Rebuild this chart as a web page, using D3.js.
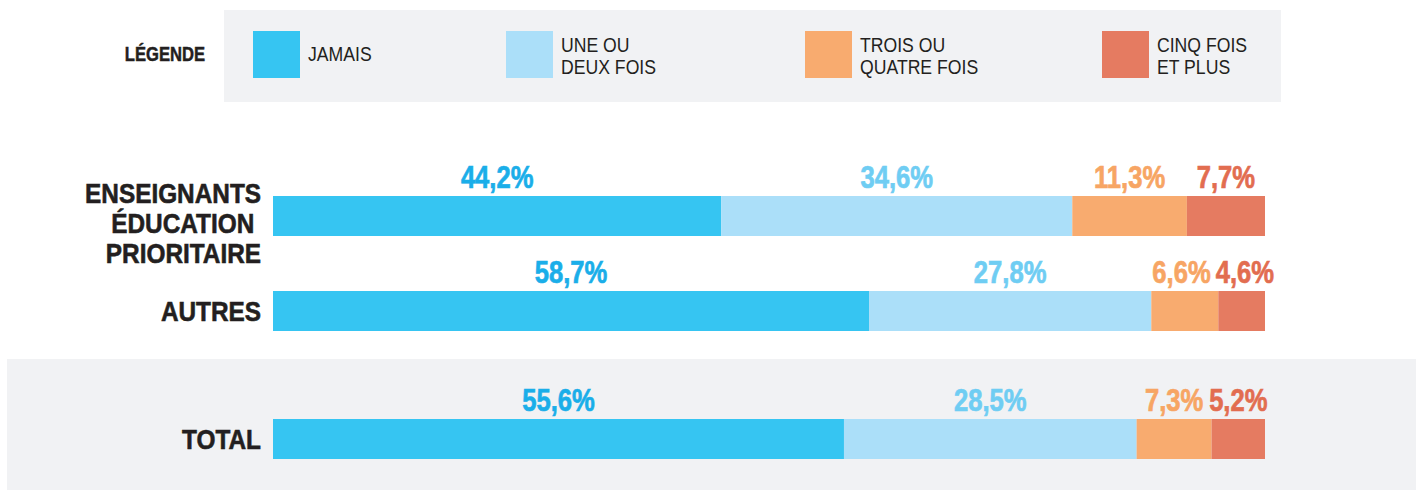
<!DOCTYPE html>
<html>
<head>
<meta charset="utf-8">
<script src="https://cdn.jsdelivr.net/npm/d3@7"></script>
<style>
  html, body { margin: 0; padding: 0; background: #ffffff; }
  svg { display: block; }
  text { font-family: "Liberation Sans", Arial, sans-serif; }
</style>
</head>
<body>
<div id="chart"></div>
<script>
// categories and values
var categories = ["JAMAIS", "UNE OU DEUX FOIS", "TROIS OU QUATRE FOIS", "CINQ FOIS ET PLUS"];
var legendLines = [["JAMAIS"], ["UNE OU", "DEUX FOIS"], ["TROIS OU", "QUATRE FOIS"], ["CINQ FOIS", "ET PLUS"]];
var groups = [["ENSEIGNANTS", "ÉDUCATION ", "PRIORITAIRE"], ["AUTRES"], ["TOTAL"]];
var prioritaire = [44.2, 34.6, 11.3, 7.7];
var autres = [58.7, 27.8, 6.6, 4.6];
var total = [55.6, 28.5, 7.3, 5.2];

var series = [prioritaire, autres, total];

var barColors = ["#36c5f2", "#abdff9", "#f8ab6f", "#e57b61"];
var labelColors = ["#1aaee9", "#6fcdf3", "#f7a564", "#e26d50"];
var textColor = "#231f20";
var panelColor = "#f1f2f4";

var width = 1421, height = 490;
var barLeft = 273, barRight = 1265, barH = 40;
var rowTop = [196, 291, 419];
var legendX = [253, 506, 805, 1102];

// no condensed face installed: squeeze the text horizontally instead
var pctSqueeze = 0.8, titleSqueeze = 0.87, legendSqueeze = 0.84;

var fr = d3.formatLocale({decimal: ",", thousands: " ", grouping: [3], currency: ["", " €"]});
var fmt = fr.format(".1f");

var svg = d3.select("#chart").append("svg")
    .attr("width", width)
    .attr("height", height);

// legend panel
svg.append("rect")
    .attr("x", 224).attr("y", 10)
    .attr("width", 1057).attr("height", 92)
    .attr("fill", panelColor);

svg.append("text")
    .attr("transform", "translate(205,61) scale(0.83,1)")
    .attr("text-anchor", "end")
    .attr("font-size", 20)
    .attr("font-weight", "bold")
    .attr("fill", textColor)
    .attr("stroke", textColor)
    .attr("stroke-width", 0.5)
    .text("LÉGENDE");

var legend = svg.selectAll(".legendItem")
    .data(categories)
    .enter()
    .append("g")
    .attr("class", "legendItem")
    .attr("transform", function(d, i) { return "translate(" + legendX[i] + ",31)"; });

legend.append("rect")
    .attr("width", 47).attr("height", 47)
    .attr("fill", function(d, i) { return barColors[i]; });

legend.each(function(d, i) {
    var lines = legendLines[i];
    var first = lines.length == 1 ? 30 : 21;
    var t = d3.select(this).append("text")
        .attr("transform", "translate(55,0) scale(" + legendSqueeze + ",1)")
        .attr("font-size", 21)
        .attr("fill", textColor);
    t.selectAll("tspan")
        .data(lines)
        .enter()
        .append("tspan")
        .attr("x", 0)
        .attr("y", function(l, j) { return first + j * 22; })
        .text(function(l) { return l; });
});

// total panel
svg.append("rect")
    .attr("x", 7).attr("y", 359)
    .attr("width", 1409).attr("height", 131)
    .attr("fill", panelColor);

// rows
series.forEach(function(values, r) {
    var x = d3.scaleLinear()
        .domain([0, d3.sum(values)])
        .range([barLeft, barRight]);

    var stacked = [];
    var acc = 0;
    values.forEach(function(v, i) {
        stacked.push({i: i, v: v, x0: acc, x1: acc + v, cx: x(acc + v / 2)});
        acc += v;
    });

    var row = svg.append("g").attr("class", "row");
    var y0 = rowTop[r];

    row.selectAll("rect")
        .data(stacked)
        .enter()
        .append("rect")
        .attr("x", function(d) { return x(d.x0); })
        .attr("y", y0)
        .attr("width", function(d) { return x(d.x1) - x(d.x0); })
        .attr("height", barH)
        .attr("fill", function(d) { return barColors[d.i]; });

    var labels = row.selectAll(".pct")
        .data(stacked)
        .enter()
        .append("text")
        .attr("class", "pct")
        .attr("text-anchor", "middle")
        .attr("font-size", 32)
        .attr("font-weight", "bold")
        .attr("fill", function(d) { return labelColors[d.i]; })
        .attr("stroke", function(d) { return labelColors[d.i]; })
        .attr("stroke-width", 0.7)
        .text(function(d) { return fmt(d.v) + "%"; });

    // push small labels apart when they collide
    labels.each(function(d) { d.w = this.getBBox().width * pctSqueeze; });
    for (var k = stacked.length - 1; k > 0; k--) {
        var a = stacked[k - 1], b = stacked[k];
        var gap = (a.cx + a.w / 2 + 5) - (b.cx - b.w / 2);
        if (gap > 0) {
            a.cx -= gap / 2;
            b.cx += gap / 2;
        }
    }
    labels.attr("transform", function(d) {
        return "translate(" + d.cx + "," + (y0 - 8) + ") scale(" + pctSqueeze + ",1)";
    });

    // row title
    var lines = groups[r];
    var mid = y0 + barH / 2;
    var firstBase = lines.length == 1 ? mid + 10 : mid + 17 - (lines.length - 1) / 2 * 30;
    row.append("text")
        .attr("transform", "translate(261,0) scale(" + titleSqueeze + ",1)")
        .attr("text-anchor", "end")
        .attr("font-size", 28)
        .attr("font-weight", "bold")
        .attr("fill", textColor)
        .attr("stroke", textColor)
        .attr("stroke-width", 0.6)
        .style("white-space", "pre")
        .selectAll("tspan")
        .data(lines)
        .enter()
        .append("tspan")
        .attr("x", 0)
        .attr("y", function(l, j) { return firstBase + j * 30; })
        .text(function(l) { return l; });
});
</script>
</body>
</html>
